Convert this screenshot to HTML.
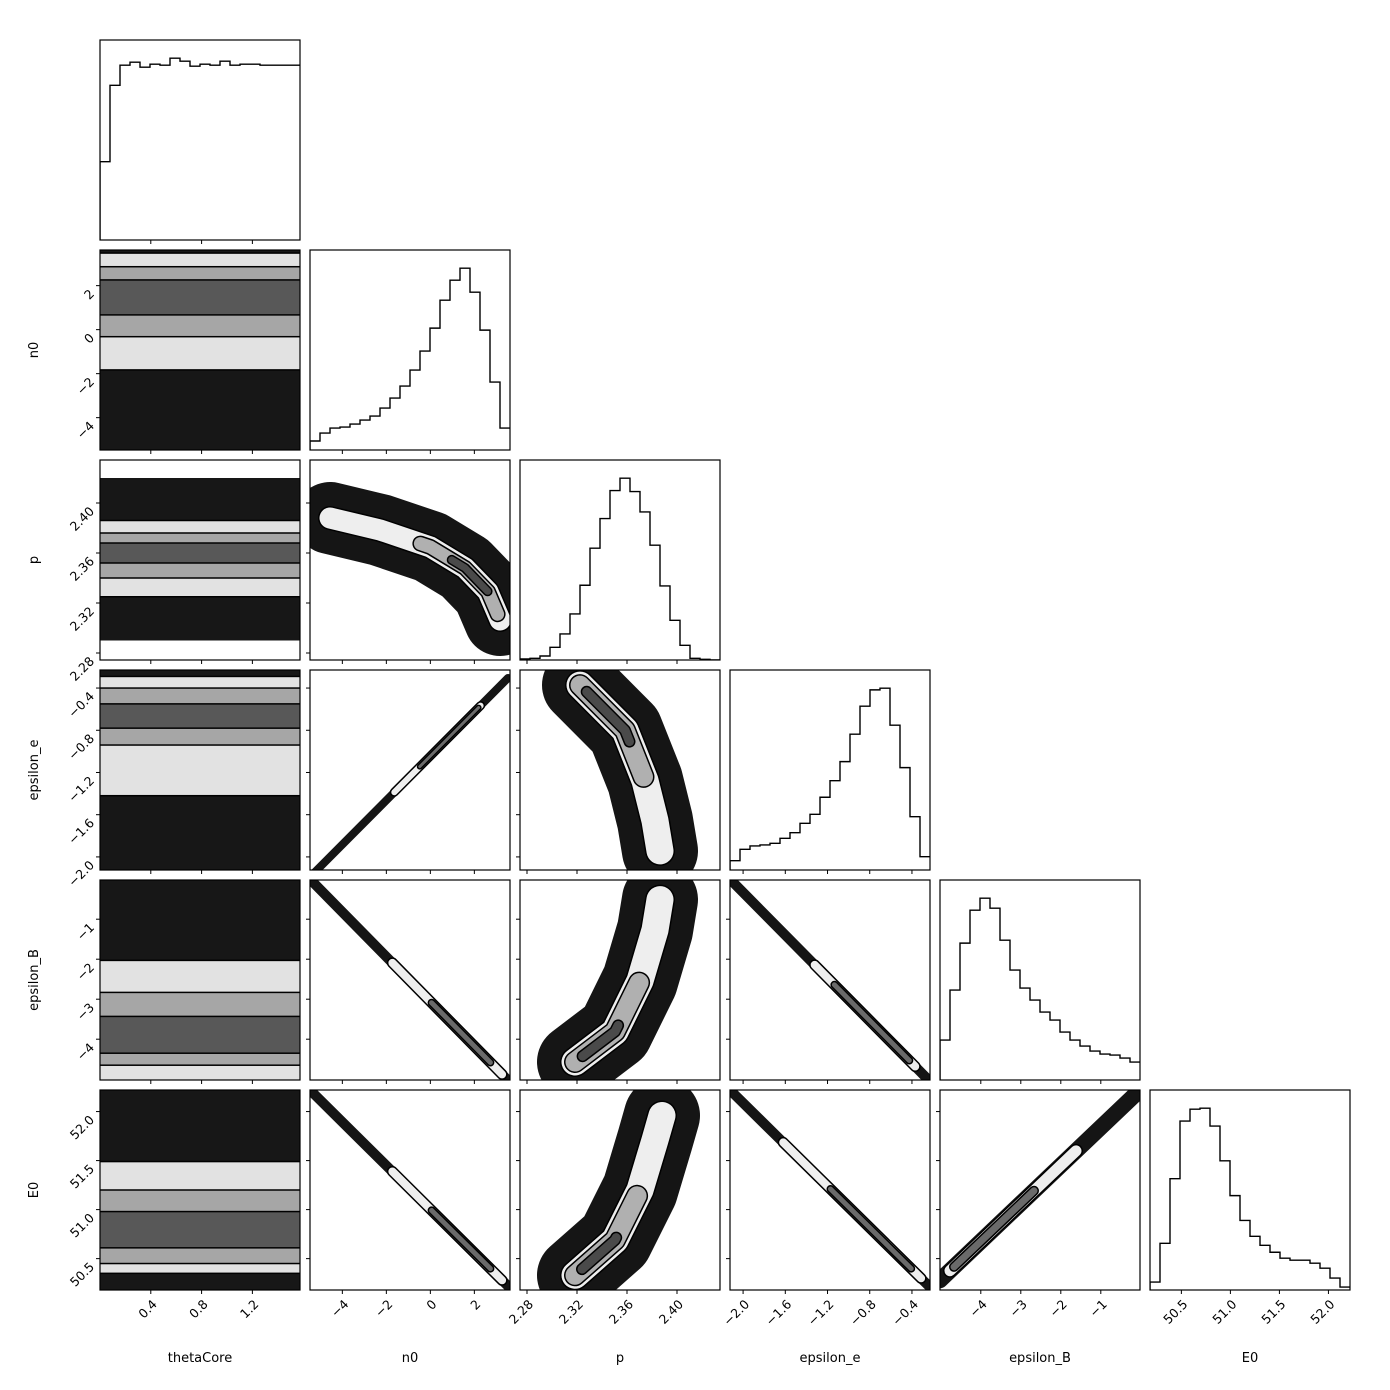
<!DOCTYPE html>
<html><head><meta charset="utf-8">
<style>
html,body{margin:0;padding:0;background:#fff;}
svg{display:block;font-family:"DejaVu Sans","Liberation Sans",sans-serif;}
</style></head>
<body>
<svg id="fig" width="1390" height="1390" viewBox="0 0 1390 1390" xmlns="http://www.w3.org/2000/svg"></svg>
<script>
// ---- data ----
const paramNames = ["thetaCore","n0","p","epsilon_e","epsilon_B","E0"];
const rangeLo = [0, -5.47, 2.2744, -2.124, -5.02, 50.18];
const rangeHi = [1.575, 3.62, 2.4344, -0.229, -0.02, 52.22];
const tickVals = [[0.4,0.8,1.2],[-4,-2,0,2],[2.28,2.32,2.36,2.40],[-2.0,-1.6,-1.2,-0.8,-0.4],[-4,-3,-2,-1],[50.5,51.0,51.5,52.0]];
const tickLabels = [["0.4","0.8","1.2"],["−4","−2","0","2"],["2.28","2.32","2.36","2.40"],["−2.0","−1.6","−1.2","−0.8","−0.4"],["−4","−3","−2","−1"],["50.5","51.0","51.5","52.0"]];
const histThetaCore = [78,154,174,177,172,175,174,181,178,173,175,174,178,174,175,175,174,174,174,174];
const histN0 = [9,17,22,23,26,30,34,42,52,64,80,99,122,150,170,182,158,120,68,22];
const histP = [1,1.7,4,12.7,26,46,74.7,111.7,141.3,169.3,181.7,168.3,148,114.7,74,39.7,14.7,1.7,0.7,0];
const histEpsE = [9.3,20.7,24,25,26.7,31.7,37.3,46.7,55.7,72.7,89.3,108.3,135.7,163.7,180,181.7,144.7,102.3,53.3,13.3];
const histEpsB = [40,90,137,170,182,172,140,110,92,80,68,60,48,40,34,29,26,25,22,18];
const histE0 = [8,47,112,170,182,183,165,130,95,70,54,45,38,32,30,30,27,22,12,3];
const hists = [histThetaCore,histN0,histP,histEpsE,histEpsB,histE0];
const bandPts = [null,[-5.8,3.8],[2.29,2.42],[-2.2,-0.2],[-5.2,0.1],[50.1,52.3]];
const bandEdge = [null,[-1.83,3.48],[2.325,2.386],[-1.42,-0.29],[-5.3,-2.03],[50.35,51.49]];
const bandC1 = [null,[-0.32,2.86],[2.340,2.376],[-0.94,-0.40],[-4.65,-2.83],[50.45,51.2]];
const bandC2 = [null,[0.67,2.26],[2.352,2.368],[-0.78,-0.55],[-4.35,-3.43],[50.61,50.98]];
const ridgePanels = [
 {c:1,r:2,x:[-4.56,-2.29,0.0,1.58,2.62,3.17],y:[2.388,2.3784,2.3648,2.348,2.329,2.3064],w:[36,11,7,4],lv:[[0,1],[0.45,0.97],[0.62,0.85]]},
 {c:2,r:3,x:[2.3224,2.3584,2.3744,2.3824,2.3864],y:[-0.372,-0.800,-1.277,-1.658,-1.943],w:[38,14,10,5],lv:[[0,1],[0,0.6],[0.05,0.4]]},
 {c:2,r:4,x:[2.3184,2.3504,2.3704,2.3824,2.3864],y:[-4.57,-3.81,-2.54,-1.27,-0.51],w:[38,14,10,5],lv:[[0,1],[0,0.55],[0.05,0.3]]},
 {c:2,r:5,x:[2.3184,2.3504,2.3704,2.3824,2.388],y:[50.33,50.69,51.20,51.71,51.96],w:[38,14,10,5],lv:[[0,1],[0,0.55],[0.05,0.3]]},
 {c:1,r:3,x:[-5.38,3.53],y:[-2.171,-0.305],w:[4,3.5,2],lv:[[0.42,0.86],[0.55,0.85]]},
 {c:1,r:4,x:[-5.38,3.53],y:[-0.05,-5.03],w:[5,4.5,3],lv:[[0.41,0.97],[0.61,0.91]]},
 {c:1,r:5,x:[-5.38,3.53],y:[52.2,50.22],w:[5,4.5,3],lv:[[0.41,0.97],[0.61,0.91]]},
 {c:3,r:4,x:[-2.105,-0.239],y:[-0.05,-5.03],w:[5,4.5,3],lv:[[0.42,0.93],[0.52,0.9]]},
 {c:3,r:5,x:[-2.105,-0.239],y:[52.2,50.22],w:[5,4.5,3],lv:[[0.26,0.96],[0.5,0.91]]},
 {c:4,r:5,x:[-5.02,-0.02],y:[50.28,52.22],w:[8,6,4],lv:[[0.05,0.68],[0.07,0.47]]}
];
// ---- drawing ----
const NS="http://www.w3.org/2000/svg";
const svg=document.getElementById('fig');
const P0X=100,P0Y=40,STEP=210,SZ=200;
function el(tag,attrs,parent){const e=document.createElementNS(NS,tag);for(const k in attrs)e.setAttribute(k,attrs[k]);(parent||svg).appendChild(e);return e;}
function sx(i,c,v){return P0X+c*STEP+(v-rangeLo[i])/(rangeHi[i]-rangeLo[i])*SZ;}
function sy(i,r,v){return P0Y+r*STEP+SZ-(v-rangeLo[i])/(rangeHi[i]-rangeLo[i])*SZ;}
function subPoly(pts,f0,f1){
  const cum=[0];for(let k=1;k<pts.length;k++)cum.push(cum[k-1]+Math.hypot(pts[k][0]-pts[k-1][0],pts[k][1]-pts[k-1][1]));
  const L=cum[cum.length-1];const a=f0*L,b=f1*L;
  const at=s=>{for(let k=1;k<pts.length;k++){if(s<=cum[k]+1e-9){const t=(s-cum[k-1])/((cum[k]-cum[k-1])||1);return[pts[k-1][0]+t*(pts[k][0]-pts[k-1][0]),pts[k-1][1]+t*(pts[k][1]-pts[k-1][1])];}}return pts[pts.length-1];};
  const out=[at(a)];for(let k=0;k<pts.length;k++)if(cum[k]>a&&cum[k]<b)out.push(pts[k]);out.push(at(b));return out;
}

for(let r=0;r<6;r++){for(let c=0;c<=r;c++){
  const L=P0X+c*STEP,T=P0Y+r*STEP;
  const g=el('g',{});
  
  
  const cp=el('clipPath',{id:'cp'+r+c},g);el('rect',{x:L,y:T,width:SZ,height:SZ},cp);
  const inner=el('g',{'clip-path':'url(#cp'+r+c+')'},g);
  if(r===c){
    const h=hists[c];const mx=Math.max(...h)*1.1;const n=h.length;
    let d='';
    for(let k=0;k<n;k++){const x0=L+k*SZ/n,x1=L+(k+1)*SZ/n,y=T+SZ-h[k]/mx*SZ;d+=(k===0?'M'+x0+','+(T+SZ)+'L'+x0+','+y:'L'+x0+','+y)+'L'+x1+','+y;}
    const path=el('path',{d:d,fill:'none',stroke:'#000','stroke-width':1.4},inner);
    
    
  } else if(c===0){
    const bp=bandPts[r];
    const py1=sy(r,r,bp[1]),py0=sy(r,r,bp[0]);
    el('rect',{x:L,y:py1,width:SZ,height:py0-py1,fill:'#171717'},inner);
    const fills=['#e2e2e2','#a6a6a6','#585858'];
    [bandEdge[r],bandC1[r],bandC2[r]].forEach((b,k)=>{
      const y1=sy(r,r,b[1]),y0=sy(r,r,b[0]);
      const rc=el('rect',{x:L-5,y:y1,width:SZ+10,height:y0-y1,fill:fills[k],stroke:'#000','stroke-width':1.5},inner);
      
      
    });
  } else {
    const rp=ridgePanels.find(q=>q.c===c&&q.r===r);
    if(rp){
      const pts=rp.x.map((v,k)=>[sx(c,c,v),sy(r,r,rp.y[k])]);
      const line=(p,w,col)=>{if(w>0)el('polyline',{points:p.map(q=>q[0].toFixed(1)+','+q[1].toFixed(1)).join(' '),fill:'none',stroke:col,'stroke-width':w,'stroke-linecap':'round','stroke-linejoin':'round'},inner);};
      line(pts,2*rp.w[0],'#151515');
      const fills=rp.lv.length===3?['#eeeeee','#b0b0b0','#4a4a4a']:['#eeeeee','#6a6a6a'];
      rp.lv.forEach((f,k)=>{
        const sp=subPoly(pts,f[0],f[1]);
        line(sp,2*rp.w[k+1]+2,'#000');line(sp,2*rp.w[k+1]-1,fills[k]);
      });
    }
  }
  const fr=el('rect',{x:L,y:T,width:SZ,height:SZ,fill:'none',stroke:'#000','stroke-width':1.2},g);
  
  
  tickVals[c].forEach((v,k)=>{
    const x=sx(c,c,v);
    el('line',{x1:x,y1:T+SZ,x2:x,y2:T+SZ+4,stroke:'#000','stroke-width':1},g);
    if(r===5){
      const t=el('text',{transform:'translate('+(x+7)+','+(T+SZ+15)+') rotate(-45)','text-anchor':'end','font-size':12.5,fill:'#000'},g);
      t.textContent=tickLabels[c][k];
      
      
    }
  });
  if(r!==c){
    tickVals[r].forEach((v,k)=>{
      const y=sy(r,r,v);
      el('line',{x1:L-4,y1:y,x2:L,y2:y,stroke:'#000','stroke-width':1},g);
      if(c===0){
        const t=el('text',{transform:'translate('+(L-5)+','+(y+9)+') rotate(-45)','text-anchor':'end','font-size':12.5,fill:'#000'},g);
        t.textContent=tickLabels[r][k];
        
        
      }
    });
  }
}}
for(let c=0;c<6;c++){
  const t=el('text',{x:P0X+c*STEP+SZ/2,y:1362,'text-anchor':'middle','font-size':13,fill:'#000'});
  t.textContent=paramNames[c];
  
  
}
for(let r=1;r<6;r++){
  const cy=P0Y+r*STEP+SZ/2;
  const t=el('text',{transform:'translate(38,'+cy+') rotate(-90)','text-anchor':'middle','font-size':13,fill:'#000'});
  t.textContent=paramNames[r];
  
  
}
</script>
</body></html>
